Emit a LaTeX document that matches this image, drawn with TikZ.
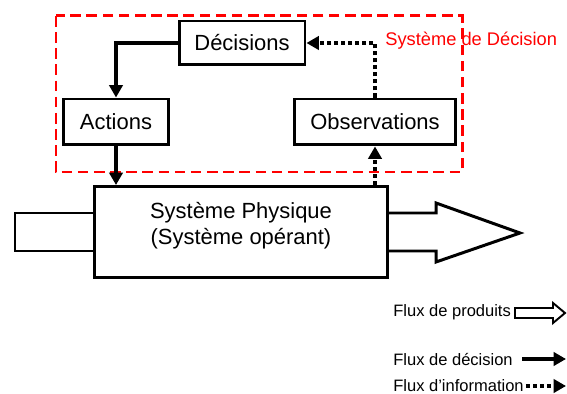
\documentclass[tikz,border=0pt]{standalone}
\usepackage{fontspec}
\setmainfont{Liberation Sans}
\usetikzlibrary{arrows.meta}
\definecolor{sysred}{RGB}{255,0,0}

\tikzset{
  bloc/.style={draw, rectangle, line width=1.7pt, fill=white, inner sep=0pt, font=\fontsize{12.5}{14.5}\selectfont},
  flux/.style={line width=2pt, -{Triangle[length=7pt,width=7.5pt]}},
  info/.style={flux, dash pattern=on 2.3pt off 1.7pt},
  legende/.style={anchor=west, inner sep=0pt, font=\fontsize{9.4}{11}\selectfont},
}

\begin{document}
\begin{tikzpicture}[x=0.02cm, y=-0.02cm]
    \useasboundingbox (0,0) rectangle (567,394);

    % Decision system frame
    \draw[sysred, line width=1.7pt, dash pattern=on 6pt off 3.2pt] (56,16) rectangle (462,172);
    \node[sysred, anchor=west, inner sep=0pt, font=\fontsize{10.4}{12}\selectfont] (sdlbl) at (385,41) {Système de Décision};

    % Product flow in and out
    \draw[line width=1.7pt] (94,213) -- (15,213) -- (15,251) -- (94,251);
    \draw[line width=1.7pt] (388,213) -- (436,213) -- (436,203) -- (520,233) -- (436,262) -- (436,251) -- (388,251);

    % Boxes
    \node[bloc, minimum width=2.52cm, minimum height=0.88cm] (dec) at (242,43) {Décisions};
    \node[bloc, minimum width=2.1cm, minimum height=0.92cm] (act) at (116,122) {Actions};
    \node[bloc, minimum width=3.22cm, minimum height=0.92cm] (obs) at (375,122) {Observations};
    \node[bloc, minimum width=5.88cm, minimum height=1.82cm, align=center, text depth=0.34cm] (phys) at (241,232) {Système Physique\\(Système opérant)};

    % Arrows
    \draw[flux] (dec.west) -| (act.north);
    \draw[flux] (act.south) -- (act.south |- phys.north);
    \draw[info] (obs.south |- phys.north) -- (obs.south);
    \draw[info] (obs.north) |- (dec.east);

    % Legend
    \node[legende] (lgprod) at (393,312) {Flux de produits};
    \node[legende] (lgdec) at (393,359) {Flux de décision};
    \node[legende] (lginfo) at (393,386) {Flux d’information};
    \draw[line width=1.1pt] (515,308) -- (553,308) -- (553,303) -- (565,313) -- (553,323) -- (553,318) -- (515,318) -- cycle;
    \coordinate (decA) at (522,359);
    \coordinate (decB) at (566,359);
    \coordinate (infA) at (lginfo.east);
    \coordinate (infB) at (566,386);
    \draw[flux] (decA) -- (decB);
    \draw[info] ([xshift=1pt]infA) -- (infB);
\end{tikzpicture}
\end{document}
